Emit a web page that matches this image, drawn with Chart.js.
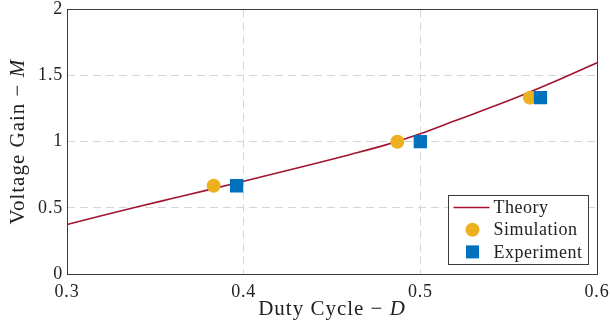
<!DOCTYPE html>
<html>
<head>
<meta charset="utf-8">
<script src="https://cdn.jsdelivr.net/npm/chart.js@4.4.1/dist/chart.umd.min.js"></script>
<style>
  html, body { margin: 0; padding: 0; background: #fff; }
</style>
</head>
<body>
<canvas id="gainChart" width="610" height="336"></canvas>
<script>
// values
const theoryD = [0.30, 0.32, 0.34, 0.36, 0.38, 0.40, 0.42, 0.44, 0.46, 0.48, 0.50, 0.52, 0.54, 0.56, 0.58, 0.60];
const theoryM = [0.374, 0.442, 0.508, 0.572, 0.636, 0.701, 0.767, 0.834, 0.902, 0.974, 1.060, 1.160, 1.260, 1.365, 1.478, 1.596];
const simD = [0.383, 0.487, 0.562];
const simM = [0.667, 1.0, 1.333];
const expD = [0.396, 0.500, 0.568];
const expM = [0.667, 1.0, 1.333];
const xTicks = [0.3, 0.4, 0.5, 0.6];
const yTicks = [0, 0.5, 1, 1.5, 2];

const serif = "'Liberation Serif', 'DejaVu Serif', serif";
const frameColor = "#3a3a3a";
const textColor = "#222";

function toPoints(xs, ys) {
  let pts = [];
  for (let i = 0; i < xs.length; i++) {
    pts.push({ x: xs[i], y: ys[i] });
  }
  return pts;
}

// title text with an italic symbol at the end
function drawMixed(ctx, plain, symbol, size) {
  ctx.letterSpacing = "1px";
  ctx.font = size + "px " + serif;
  let w1 = ctx.measureText(plain).width;
  ctx.font = "italic " + size + "px " + serif;
  let w2 = ctx.measureText(symbol).width;
  let start = -(w1 + w2) / 2;
  ctx.textAlign = "left";
  ctx.textBaseline = "alphabetic";
  ctx.fillStyle = textColor;
  ctx.font = size + "px " + serif;
  ctx.fillText(plain, start, 0);
  ctx.font = "italic " + size + "px " + serif;
  ctx.fillText(symbol, start + w1, 0);
}

const framePlugin = {
  id: "frame",
  beforeDraw(chart) {
    chart.ctx.letterSpacing = "0.8px";
  },
  afterDatasetsDraw(chart) {
    const ctx = chart.ctx;
    const a = chart.chartArea;
    ctx.save();
    ctx.strokeStyle = frameColor;
    ctx.lineWidth = 1;
    ctx.strokeRect(Math.round(a.left) + 0.5, Math.round(a.top) + 0.5,
      Math.round(a.right - a.left), Math.round(a.bottom - a.top));

    // axis titles
    ctx.save();
    ctx.translate((a.left + a.right) / 2, 315);
    drawMixed(ctx, "Duty Cycle \u2212 ", "D", 21);
    ctx.restore();
    ctx.save();
    ctx.translate(24, (a.top + a.bottom) / 2);
    ctx.rotate(-Math.PI / 2);
    drawMixed(ctx, "Voltage Gain \u2212 ", "M", 21);
    ctx.restore();

    // legend box, bottom right inside the plot
    const boxW = 140, boxH = 69;
    const bx = Math.round(a.right - 9 - boxW) + 0.5;
    const by = Math.round(a.bottom - 10 - boxH) + 0.5;
    ctx.fillStyle = "#fff";
    ctx.fillRect(bx, by, boxW, boxH);
    ctx.strokeStyle = frameColor;
    ctx.strokeRect(bx, by, boxW, boxH);
    const sets = chart.data.datasets;
    ctx.letterSpacing = "0.5px";
    ctx.font = "18px " + serif;
    ctx.textAlign = "left";
    ctx.textBaseline = "middle";
    for (let i = 0; i < sets.length; i++) {
      const ds = sets[i];
      const cy = by + 12 + i * 22.2;
      const cx = bx + 24;
      if (ds.type === "line") {
        ctx.strokeStyle = ds.borderColor;
        ctx.lineWidth = ds.borderWidth;
        ctx.beginPath();
        ctx.moveTo(bx + 5, cy);
        ctx.lineTo(bx + 41, cy);
        ctx.stroke();
        ctx.lineWidth = 1;
      } else if (ds.pointStyle === "rect") {
        ctx.fillStyle = ds.backgroundColor;
        ctx.fillRect(cx - 6.5, cy - 6.5, 13, 13);
      } else {
        ctx.fillStyle = ds.backgroundColor;
        ctx.beginPath();
        ctx.arc(cx, cy, 7, 0, Math.PI * 2);
        ctx.fill();
      }
      ctx.fillStyle = textColor;
      ctx.fillText(ds.label, bx + 45, cy + 1);
    }
    ctx.restore();
  },
};

new Chart(document.getElementById("gainChart"), {
  type: "scatter",
  data: {
    datasets: [
      {
        type: "line",
        label: "Theory",
        data: toPoints(theoryD, theoryM),
        borderColor: "#A2142F",
        borderWidth: 1.6,
        pointRadius: 0,
        cubicInterpolationMode: "monotone",
        fill: false,
        order: 3,
      },
      {
        label: "Simulation",
        data: toPoints(simD, simM),
        backgroundColor: "#EDB120",
        borderWidth: 0,
        pointStyle: "circle",
        pointRadius: 7,
        order: 2,
      },
      {
        label: "Experiment",
        data: toPoints(expD, expM),
        backgroundColor: "#0072BD",
        borderWidth: 0,
        pointStyle: "rect",
        pointRadius: 9.4,
        order: 1,
      },
    ],
  },
  options: {
    responsive: false,
    animation: false,
    layout: { padding: { top: 8, right: 13, left: 0, bottom: 0 } },
    plugins: {
      legend: { display: false },
      tooltip: { enabled: false },
    },
    scales: {
      x: {
        type: "linear",
        min: 0.3,
        max: 0.6,
        afterBuildTicks: (scale) => {
          scale.ticks = xTicks.map((v) => ({ value: v }));
        },
        afterFit: (scale) => {
          scale.height = 62;
          scale.paddingLeft = 0;
          scale.paddingRight = 0;
        },
        ticks: {
          color: textColor,
          font: { family: serif, size: 18 },
          padding: 7,
          maxRotation: 0,
          callback: (v) => v.toFixed(1),
        },
        grid: { color: "#d6d6d6", drawTicks: false },
        border: { display: false, dash: [8, 5] },
      },
      y: {
        type: "linear",
        min: 0,
        max: 2,
        afterBuildTicks: (scale) => {
          scale.ticks = yTicks.map((v) => ({ value: v }));
        },
        afterFit: (scale) => {
          scale.width = 67;
          scale.paddingTop = 0;
          scale.paddingBottom = 0;
        },
        ticks: {
          color: textColor,
          font: { family: serif, size: 18 },
          padding: 4,
          callback: (v) => String(v),
        },
        grid: { color: "#d6d6d6", drawTicks: false },
        border: { display: false, dash: [8, 5] },
      },
    },
  },
  plugins: [framePlugin],
});
</script>
</body>
</html>
